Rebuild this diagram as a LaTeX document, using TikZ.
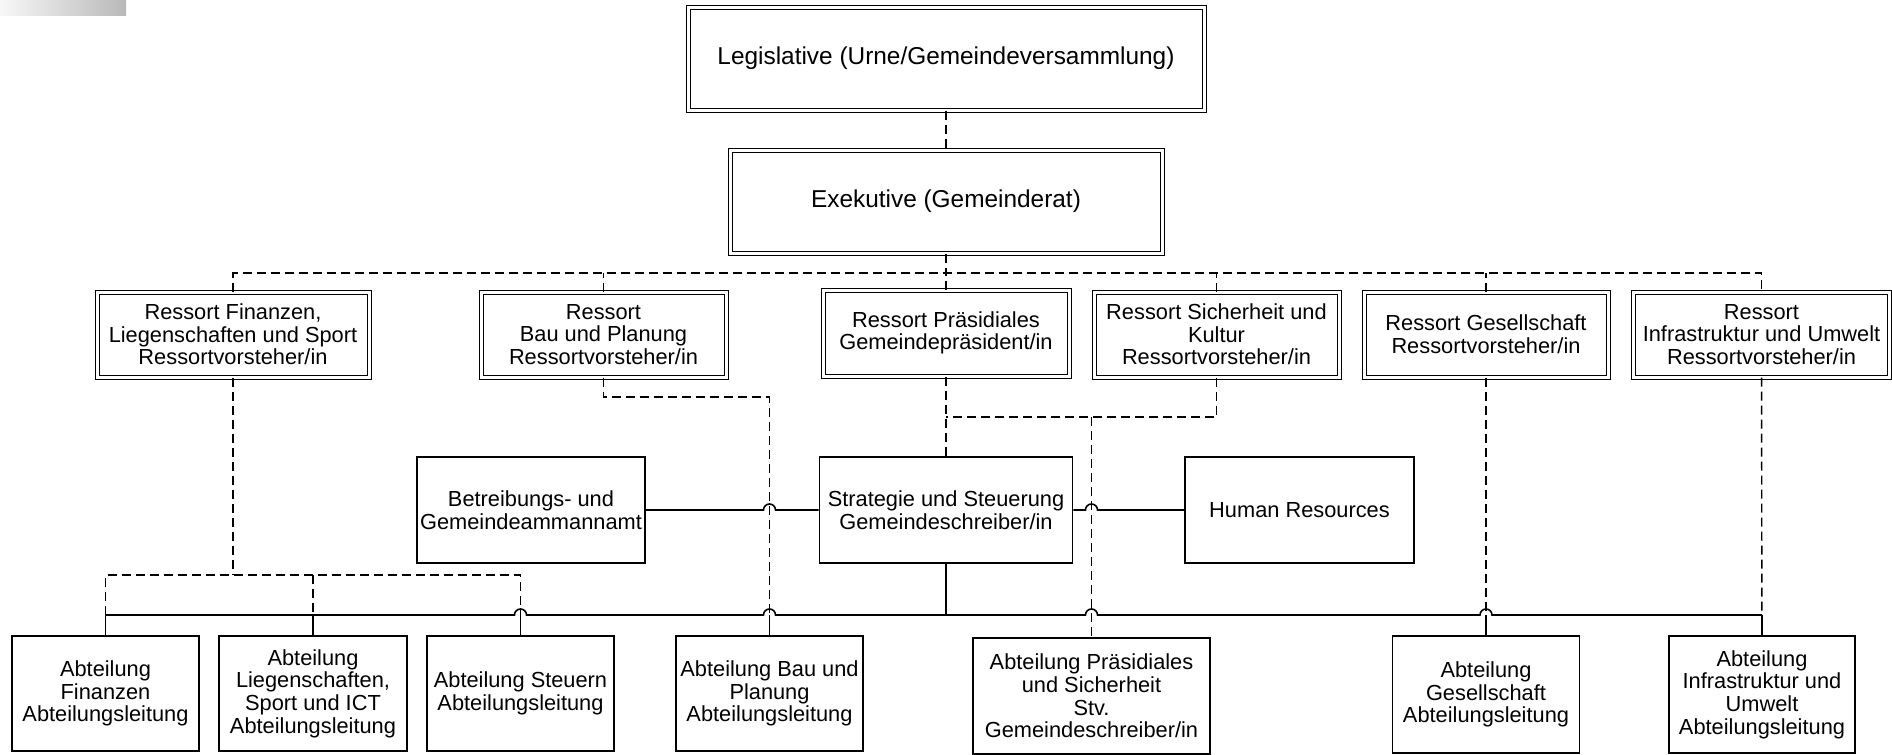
\documentclass[tikz,border=0pt]{standalone}
\usepackage{fontspec}
\setmainfont{Liberation Sans}
\usepackage{tikz}

\begin{document}
\begin{tikzpicture}[x=0.5pt, y=-0.5pt,
        every node/.style={font=\fontsize{10.9}{11.3}\selectfont, align=center, inner sep=1pt},
        dblbox/.style={draw, line width=0.5pt, double, double distance=1.5pt, minimum height=42.5pt},
        topbox/.style={dblbox, font=\fontsize{12.2}{13}\selectfont, minimum height=51.5pt},
        plainbox/.style={draw, line width=0.8pt},
        dashline/.style={line width=0.7pt, dash pattern=on 4.5pt off 2.5pt},
        solidline/.style={line width=0.8pt}]
    \useasboundingbox (0,0) rectangle (1892,755);
    \shade[left color=gray!6, right color=gray!55] (0,0) rectangle (126,15.7);

    % Legislative und Exekutive
    \node[topbox, minimum width=258pt] (leg) at (946,58.5) {Legislative (Urne/Gemeindeversammlung)};
    \node[topbox, minimum width=216pt] (exe) at (946,201.5) {Exekutive (Gemeinderat)};

    % Ressorts
    \node[dblbox, minimum width=136pt] (rfin) at (233,334.5) {Ressort Finanzen,\\Liegenschaften und Sport\\Ressortvorsteher/in};
    \node[dblbox, minimum width=122.5pt] (rbau) at (603.5,334.5) {Ressort\\Bau und Planung\\Ressortvorsteher/in};
    \node[dblbox, minimum width=123pt, minimum height=43pt] (rpraes) at (946,333) {Ressort Präsidiales\\Gemeindepräsident/in};
    \node[dblbox, minimum width=122.5pt] (rsich) at (1216.5,334.5) {Ressort Sicherheit und\\Kultur\\Ressortvorsteher/in};
    \node[dblbox, minimum width=122pt] (rges) at (1486,334.5) {Ressort Gesellschaft\\Ressortvorsteher/in};
    \node[dblbox, minimum width=128pt] (rinf) at (1761.5,334.5) {Ressort\\Infrastruktur und Umwelt\\Ressortvorsteher/in};

    % Stab
    \node[plainbox, minimum width=114pt, minimum height=53pt] (betr) at (531,510) {Betreibungs- und\\Gemeindeammannamt};
    \node[plainbox, minimum width=126.5pt, minimum height=53pt] (strat) at (946,510) {Strategie und Steuerung\\Gemeindeschreiber/in};
    \node[plainbox, minimum width=114.5pt, minimum height=53pt] (hr) at (1299.5,510) {Human Resources};

    % Abteilungen
    \node[plainbox, minimum width=93.5pt, minimum height=57.5pt] (afin) at (105.5,693.5) {Abteilung\\Finanzen\\Abteilungsleitung};
    \node[plainbox, minimum width=94pt, minimum height=57.5pt] (alieg) at (313,693.5) {Abteilung\\Liegenschaften,\\Sport und ICT\\Abteilungsleitung};
    \node[plainbox, minimum width=93.5pt, minimum height=57.5pt] (asteu) at (520.5,693.5) {Abteilung Steuern\\Abteilungsleitung};
    \node[plainbox, minimum width=93.5pt, minimum height=57.5pt] (abau) at (769.5,693.5) {Abteilung Bau und\\Planung\\Abteilungsleitung};
    \node[plainbox, minimum width=118.5pt, minimum height=58pt] (apraes) at (1091.5,696) {Abteilung Präsidiales\\und Sicherheit\\Stv.\\Gemeindeschreiber/in};
    \node[plainbox, minimum width=93.5pt, minimum height=58.5pt] (ages) at (1486,694.5) {Abteilung\\Gesellschaft\\Abteilungsleitung};
    \node[plainbox, minimum width=93pt, minimum height=58.5pt] (ainf) at (1762,694.5) {Abteilung\\Infrastruktur und\\Umwelt\\Abteilungsleitung};

    \coordinate (rbus) at (0,273);
    \coordinate (bbus) at (0,397);
    \coordinate (sbus) at (0,417);
    \coordinate (fbus) at (0,575);
    \coordinate (bus) at (0,615);

    % gestrichelte Verbindungen
    \draw[dashline] (leg) -- (exe);
    \draw[dashline] (exe.south) -- (exe.south |- rbus);
    \draw[dashline] (rfin.north) |- (rinf.north |- rbus) -- (rinf.north);
    \foreach \r in {rbau, rpraes, rsich, rges}
        \draw[dashline] (\r.north) -- (\r.north |- rbus);
    \draw[dashline] (rfin.south) -- (rfin.south |- fbus);
    \draw[dashline] (afin.north |- bus) |- (asteu.north |- fbus) -- (asteu.north |- bus);
    \draw[dashline] (alieg.north |- fbus) -- (alieg.north |- bus);
    \draw[dashline] (rbau.south) |- (abau.north |- bbus) -- (abau.north);
    \draw[dashline] (rpraes) -- (strat);
    \draw[dashline] (rsich.south) |- (rpraes.south |- sbus);
    \draw[dashline] (apraes.north |- sbus) -- (apraes.north);
    \draw[dashline] (rges) -- (ages);
    \draw[dashline] (rinf) -- (ainf);

    % durchgezogene Verbindungen
    \draw[solidline] (betr.east) -- ([xshift=-3pt]abau.north |- betr.east)
        arc[start angle=180, end angle=0, radius=3pt] -- (strat.west);
    \draw[solidline] (strat.east) -- ([xshift=-3pt]apraes.north |- strat.east)
        arc[start angle=180, end angle=0, radius=3pt] -- (hr.west);
    \draw[solidline, line width=1.1pt] (strat.south) -- (strat.south |- bus);
    \draw[solidline] (afin.north |- bus) -- ([xshift=-3pt]asteu.north |- bus)
        arc[start angle=180, end angle=0, radius=3pt] -- ([xshift=-3pt]abau.north |- bus)
        arc[start angle=180, end angle=0, radius=3pt] -- ([xshift=-3pt]apraes.north |- bus)
        arc[start angle=180, end angle=0, radius=3pt] -- ([xshift=-3pt]ages.north |- bus)
        arc[start angle=180, end angle=0, radius=3pt] -- (ainf.north |- bus);
    \foreach \a in {afin, alieg, asteu, abau, ages, ainf}
        \draw[solidline] (\a.north |- bus) -- (\a.north);
\end{tikzpicture}
\end{document}
